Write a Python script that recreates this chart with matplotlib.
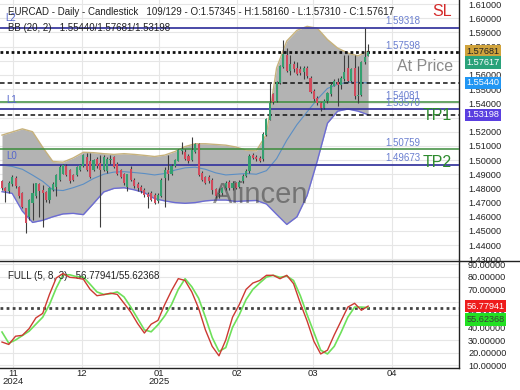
import matplotlib
matplotlib.use('Agg')
import matplotlib.pyplot as plt
from matplotlib.lines import Line2D
import numpy as np

plt.rcParams['font.family'] = ['Liberation Sans', 'DejaVu Sans']

# ---------------- data ----------------
opens = [1.4850, 1.4800, 1.4780, 1.4830, 1.4875, 1.4810, 1.4765, 1.4660, 1.4600, 1.4700,
         1.4745, 1.4830, 1.4790, 1.4775, 1.4720, 1.4790, 1.4810, 1.4860, 1.4905, 1.4955,
         1.4930, 1.4895, 1.4895, 1.4930, 1.4955, 1.5025, 1.4990, 1.4930, 1.5010, 1.4980,
         1.4930, 1.4920, 1.5000, 1.5020, 1.4975, 1.4930, 1.4905, 1.4810, 1.4940, 1.4860,
         1.4830, 1.4810, 1.4790, 1.4760, 1.4770, 1.4755, 1.4710, 1.4750, 1.4870, 1.4930,
         1.4900, 1.4960, 1.4995, 1.5065, 1.5060, 1.5030, 1.5000, 1.5060, 1.5110, 1.4910,
         1.4880, 1.4880, 1.4860, 1.4795, 1.4760, 1.4765, 1.4800, 1.4845, 1.4800, 1.4835,
         1.4810, 1.4850, 1.4890, 1.4920, 1.5035, 1.5020, 1.5015, 1.5005, 1.5180, 1.5285,
         1.5465, 1.5415, 1.5545, 1.5655, 1.5740, 1.5630, 1.5680, 1.5650, 1.5640, 1.5620,
         1.5650, 1.5580, 1.5490, 1.5440, 1.5400, 1.5370, 1.5415, 1.5465, 1.5525, 1.5550,
         1.5530, 1.5575, 1.5650, 1.5560, 1.5650, 1.5450, 1.5460, 1.5690, 1.57345]
highs = [1.4860, 1.4810, 1.4850, 1.4895, 1.4885, 1.4815, 1.4775, 1.4665, 1.4725, 1.4835,
         1.4840, 1.4835, 1.4825, 1.4785, 1.4810, 1.4845, 1.4900, 1.4965, 1.4975, 1.4970,
         1.4940, 1.4905, 1.4960, 1.4975, 1.5045, 1.5047, 1.5047, 1.5010, 1.5020, 1.5035,
         1.5035, 1.5020, 1.5035, 1.5030, 1.4985, 1.4940, 1.4910, 1.4905, 1.4955, 1.4875,
         1.4845, 1.4825, 1.4800, 1.4775, 1.4780, 1.4765, 1.4770, 1.4870, 1.4950, 1.5035,
         1.4970, 1.5010, 1.5080, 1.5130, 1.5075, 1.5040, 1.5165, 1.5120, 1.5120, 1.4920,
         1.4890, 1.4895, 1.4870, 1.4805, 1.4800, 1.4810, 1.4850, 1.4860, 1.4855, 1.4845,
         1.4860, 1.4900, 1.4935, 1.5040, 1.5050, 1.5035, 1.5030, 1.5195, 1.5300, 1.5545,
         1.5470, 1.5560, 1.5670, 1.5848, 1.5790, 1.5740, 1.5700, 1.5690, 1.5665, 1.5660,
         1.5660, 1.5590, 1.5500, 1.5450, 1.5410, 1.5430, 1.5480, 1.5545, 1.5570, 1.5580,
         1.5590, 1.5740, 1.5740, 1.5650, 1.5740, 1.5660, 1.5700, 1.5935, 1.58160]
lows = [1.4790, 1.4705, 1.4770, 1.4820, 1.4805, 1.4735, 1.4660, 1.4483, 1.4580, 1.4577,
        1.4730, 1.4600, 1.4530, 1.4705, 1.4700, 1.4780, 1.4750, 1.4850, 1.4900, 1.4890,
        1.4840, 1.4850, 1.4885, 1.4920, 1.4950, 1.4920, 1.4870, 1.4920, 1.4945, 1.4530,
        1.4920, 1.4910, 1.4975, 1.4945, 1.4895, 1.4870, 1.4825, 1.4780, 1.4855, 1.4805,
        1.4785, 1.4765, 1.4740, 1.4660, 1.4710, 1.4690, 1.4700, 1.4740, 1.4670, 1.4860,
        1.4895, 1.4950, 1.4990, 1.5040, 1.5000, 1.4980, 1.4990, 1.5050, 1.4885, 1.4850,
        1.4830, 1.4840, 1.4760, 1.4735, 1.4735, 1.4755, 1.4790, 1.4790, 1.4790, 1.4795,
        1.4800, 1.4840, 1.4880, 1.4910, 1.5005, 1.4995, 1.4985, 1.4995, 1.5170, 1.5280,
        1.5395, 1.5410, 1.5540, 1.5650, 1.5620, 1.5600, 1.5620, 1.5600, 1.5600, 1.5570,
        1.5580, 1.5470, 1.5420, 1.5390, 1.5345, 1.5360, 1.5405, 1.5455, 1.5520, 1.5380,
        1.5500, 1.5560, 1.5550, 1.5550, 1.5430, 1.5400, 1.5450, 1.5680, 1.57310]
closes = [1.4800, 1.4780, 1.4835, 1.4880, 1.4815, 1.4745, 1.4670, 1.4555, 1.4720, 1.4765,
          1.4835, 1.4780, 1.4770, 1.4720, 1.4800, 1.4830, 1.4895, 1.4950, 1.4965, 1.4895,
          1.4850, 1.4860, 1.4950, 1.4965, 1.5035, 1.4930, 1.4880, 1.5000, 1.4955, 1.4930,
          1.5025, 1.5010, 1.5010, 1.4950, 1.4905, 1.4880, 1.4835, 1.4900, 1.4860, 1.4815,
          1.4800, 1.4780, 1.4755, 1.4740, 1.4720, 1.4700, 1.4755, 1.4860, 1.4930, 1.4900,
          1.4960, 1.5000, 1.5070, 1.5075, 1.5010, 1.4990, 1.5070, 1.5110, 1.4895, 1.4860,
          1.4840, 1.4850, 1.4790, 1.4745, 1.4770, 1.4800, 1.4840, 1.4800, 1.4840, 1.4805,
          1.4845, 1.4890, 1.4925, 1.5030, 1.5015, 1.5005, 1.4995, 1.5185, 1.5290, 1.5400,
          1.5410, 1.5550, 1.5660, 1.5750, 1.5630, 1.5680, 1.5640, 1.5610, 1.5615, 1.5650,
          1.5590, 1.5480, 1.5430, 1.5400, 1.5370, 1.5420, 1.5470, 1.5530, 1.5555, 1.5530,
          1.5580, 1.5620, 1.5560, 1.5640, 1.5450, 1.5460, 1.5690, 1.5730, 1.57617]

bb_x = list(range(0, 109, 3))
bb_upper = [1.5176, 1.5198, 1.5220, 1.5200, 1.5090, 1.4990, 1.4985, 1.5015, 1.5055, 1.5052,
            1.5045, 1.5040, 1.5045, 1.5040, 1.5033, 1.5025, 1.5035, 1.5060, 1.5095, 1.5115,
            1.5115, 1.5110, 1.5105, 1.5092, 1.5070, 1.5065, 1.5180, 1.5650, 1.5840, 1.5915,
            1.5943, 1.5930, 1.5850, 1.5790, 1.5755, 1.5735, 1.57681]
bb_mid = [1.4965, 1.4955, 1.4935, 1.4894, 1.4850, 1.4790, 1.4785, 1.4805, 1.4830, 1.4870,
          1.4900, 1.4915, 1.4918, 1.4912, 1.4905, 1.4895, 1.4905, 1.4929, 1.4945, 1.4950,
          1.4935, 1.4910, 1.4895, 1.4900, 1.4905, 1.4900, 1.4925, 1.5010, 1.5140, 1.5250,
          1.5340, 1.5429, 1.5505, 1.5535, 1.5548, 1.5548, 1.55440]
bb_lower = [1.4777, 1.4765, 1.4640, 1.4560, 1.4575, 1.4600, 1.4620, 1.4624, 1.4615, 1.4694,
            1.4775, 1.4800, 1.4805, 1.4790, 1.4770, 1.4728, 1.4712, 1.4700, 1.4695, 1.4700,
            1.4712, 1.4718, 1.4718, 1.4708, 1.4712, 1.4715, 1.4690, 1.4617, 1.4546, 1.4600,
            1.4750, 1.4994, 1.5260, 1.5345, 1.5360, 1.5345, 1.53198]

st_x = list(range(0, 109, 2))
stoch_k = [28.4, 26.5, 33.0, 33.7, 39.0, 47.5, 51.0, 66.0, 79.0, 82.5,
           79.5, 79.0, 78.0, 70.0, 65.0, 65.8, 67.0, 66.0, 59.0, 52.0,
           43.0, 35.5, 42.5, 45.5, 58.0, 69.0, 78.5, 77.0, 67.9, 55.0,
           38.0, 25.0, 17.5, 30.0, 48.0, 58.0, 70.0, 75.0, 77.0, 81.1,
           81.1, 78.4, 81.1, 74.5, 59.0, 45.0, 29.0, 19.0, 22.0, 34.0,
           45.0, 56.0, 59.0, 53.5, 56.77941]
stoch_d = [36.3, 27.5, 30.0, 33.5, 37.0, 42.5, 48.0, 58.0, 71.0, 81.5,
           81.5, 80.0, 79.7, 74.0, 68.0, 66.0, 66.5, 68.0, 64.0, 56.0,
           47.0, 38.0, 36.5, 42.0, 49.0, 58.0, 70.0, 78.4, 72.0, 63.0,
           48.0, 32.0, 21.0, 24.0, 40.0, 50.0, 62.0, 70.0, 75.0, 79.7,
           81.1, 79.5, 80.5, 77.0, 65.0, 50.0, 36.0, 22.0, 19.0, 25.0,
           36.0, 48.0, 56.0, 56.0, 55.62368]

month_pos = [3.24, 23.5, 46.3, 69.3, 91.7, 115.0]
month_labels = ['11\n2024', '12', '01\n2025', '02', '03', '04']

price_ticks = [1.43, 1.44, 1.45, 1.46, 1.47, 1.48, 1.49, 1.50, 1.51, 1.52,
               1.53, 1.54, 1.55, 1.56, 1.57, 1.58, 1.59, 1.60, 1.61]
stoch_ticks = [10, 20, 30, 40, 50, 60, 70, 80, 90]

blue_levels = [1.59318, 1.53570, 1.49673]
green_levels = [1.54081, 1.50759]
level_labels = [1.59318, 1.57598, 1.54081, 1.53570, 1.50759, 1.49673]
price_line = 1.57598
bb_now = [1.55440, 1.53198]
k_now, d_now = 56.77941, 55.62368

# ---------------- figure ----------------
W, H = 520, 390
fig = plt.figure(figsize=(5.2, 3.9), dpi=100)
ax = fig.add_axes([0, 1 - 261 / H, 459 / W, 261 / H])
ax2 = fig.add_axes([0, 1 - 368 / H, 459 / W, 107 / H])

xlim = (-0.59, 134.8)
GRID = '#e6e6e6'

# price panel
ax.set_xlim(*xlim)
ax.set_ylim(1.4288, 1.6129)
ax.set_yticks(price_ticks)
ax.set_xticks(month_pos)
ax.grid(True, color=GRID, lw=0.8, zorder=0)
ax.set_axisbelow(True)
ax.yaxis.tick_right()
ax.tick_params(axis='y', length=0, pad=6.5, labelsize=6.6, labelcolor='#222222')
ax.tick_params(axis='x', length=0, labelbottom=False)
ax.yaxis.set_major_formatter(matplotlib.ticker.FormatStrFormatter('%.5f'))
for s in ['top', 'left', 'bottom']:
    ax.spines[s].set_visible(False)
ax.spines['right'].set_color('#222222')
ax.spines['right'].set_linewidth(1.0)

# Bollinger band
ax.fill_between(bb_x, bb_lower, bb_upper, color='#b3b3b3', lw=0, zorder=1)
ax.plot(bb_x, bb_upper, color='#c7b27c', lw=1.0, zorder=2)
ax.plot(bb_x, bb_lower, color='#6c6cd4', lw=1.0, zorder=2)
ax.plot(bb_x, bb_mid, color='#5b8ec4', lw=0.8, zorder=2)

# levels
for v in blue_levels:
    ax.axhline(v, color='#3b3ba0', lw=1.3, zorder=3)
for v in green_levels:
    ax.axhline(v, color='#3c8c3c', lw=1.1, zorder=3)
ax.axhline(price_line, color='#111111', lw=2.0, ls=(0, (1, 1)), zorder=3)
for v in bb_now:
    ax.axhline(v, color='#111111', lw=1.1, ls=(0, (3, 2)), zorder=3)

# candles
x = np.arange(len(closes))
o = np.array(opens); c = np.array(closes)
hi = np.array(highs); lo = np.array(lows)
up = c >= o
ax.vlines(x, lo, hi, color='#3d3d3d', lw=0.8, zorder=4)
body_bot = np.minimum(o, c)
body_h = np.maximum(np.abs(c - o), 0.0003)
ax.bar(x[up], body_h[up], bottom=body_bot[up], width=0.62, color='#35a070', lw=0, zorder=5)
ax.bar(x[~up], body_h[~up], bottom=body_bot[~up], width=0.62, color='#d24a5c', lw=0, zorder=5)

# level value labels
for v in level_labels:
    ax.annotate(f'{v:.5f}', xy=(113, v), xytext=(0, 1.2), textcoords='offset points',
                fontsize=7, color='#6a7fd0', ha='left', va='bottom', zorder=6)

# left L labels
ax.text(0.011, 0.931, 'L2', transform=ax.transAxes, fontsize=7, color='#5566cc', va='center')
ax.text(0.013, 0.617, 'L1', transform=ax.transAxes, fontsize=7, color='#5566cc', va='center')
ax.text(0.013, 0.402, 'L0', transform=ax.transAxes, fontsize=7, color='#5566cc', va='center')

# annotations
ax.text(0.985, 0.956, 'SL', transform=ax.transAxes, fontsize=11.5, color='#d42a2a',
        ha='right', va='center')
ax.text(0.987, 0.745, 'At Price', transform=ax.transAxes, fontsize=11.5, color='#8a8a8a',
        ha='right', va='center')
ax.text(0.985, 0.556, 'TP1', transform=ax.transAxes, fontsize=11.5, color='#2e8b2e',
        ha='right', va='center')
ax.text(0.985, 0.379, 'TP2', transform=ax.transAxes, fontsize=11.5, color='#2e8b2e',
        ha='right', va='center')

# watermark
ax.text(0.464, 0.222, 'Alincen', transform=ax.transAxes, fontsize=21, color='#404040',
        alpha=0.55, ha='left', va='baseline', zorder=7)

# header texts
ax.text(0.017, 0.954,
        'EURCAD - Daily - Candlestick   109/129 - O:1.57345 - H:1.58160 - L:1.57310 - C:1.57617',
        transform=ax.transAxes, fontsize=7, color='#222222', va='center', zorder=8)
ax.text(0.017, 0.893, 'BB (20, 2)   1.55440/1.57681/1.53198', transform=ax.transAxes,
        fontsize=7, color='#222222', va='center', zorder=8)

# right boxes (price)
def box(a, val, txt, fc, tc, dy=0):
    a.annotate(txt, xy=(1, val), xycoords=('axes fraction', 'data'),
               xytext=(5.2, dy), textcoords='offset points', fontsize=6.6, color=tc,
               ha='left', va='center', annotation_clip=False, zorder=10,
               bbox=dict(boxstyle='square,pad=0.18', fc=fc, ec='none'))

box(ax, 1.57681, '1.57681', '#d0a33c', '#222222')
box(ax, 1.57617, '1.57617', '#2aa27a', 'white', dy=-7.4)
box(ax, 1.55440, '1.55440', '#2196f3', 'white')
box(ax, 1.53198, '1.53198', '#5a3fe0', 'white')

# stochastic panel
ax2.set_xlim(*xlim)
ax2.set_ylim(7.9, 92.4)
ax2.set_yticks(stoch_ticks)
ax2.set_xticks(month_pos)
ax2.set_xticklabels(month_labels, fontsize=6.8, color='#222222', linespacing=0.85)
ax2.grid(True, color=GRID, lw=0.8, zorder=0)
ax2.set_axisbelow(True)
ax2.yaxis.tick_right()
ax2.tick_params(axis='y', length=0, pad=6.5, labelsize=6.6, labelcolor='#222222')
ax2.tick_params(axis='x', length=0, pad=1.0)
ax2.yaxis.set_major_formatter(matplotlib.ticker.FormatStrFormatter('%.5f'))
for s in ['top', 'left']:
    ax2.spines[s].set_visible(False)
for s in ['right', 'bottom']:
    ax2.spines[s].set_color('#222222')
    ax2.spines[s].set_linewidth(1.0)

ax2.axhline(d_now, color='#444444', lw=2.0, ls=(0, (1, 1.2)), zorder=2)
ax2.plot(st_x, stoch_d, color='#6ee05a', lw=1.2, zorder=3)
ax2.plot(st_x, stoch_k, color='#cc3a32', lw=1.0, zorder=4)
ax2.text(0.017, 0.86, 'FULL (5, 8, 3)   56.77941/55.62368', transform=ax2.transAxes,
         fontsize=7, color='#222222', va='center')
box(ax2, k_now, '56.77941', '#ee1c1c', 'white')
box(ax2, d_now, '55.62368', '#22e022', '#3a3a3a', dy=-8.6)

# separator line between panels
fig.add_artist(Line2D([0, 1], [1 - 261 / H, 1 - 261 / H], color='#222222', lw=1.0,
                      transform=fig.transFigure))

fig.savefig('out.png', dpi=100, facecolor='white')
